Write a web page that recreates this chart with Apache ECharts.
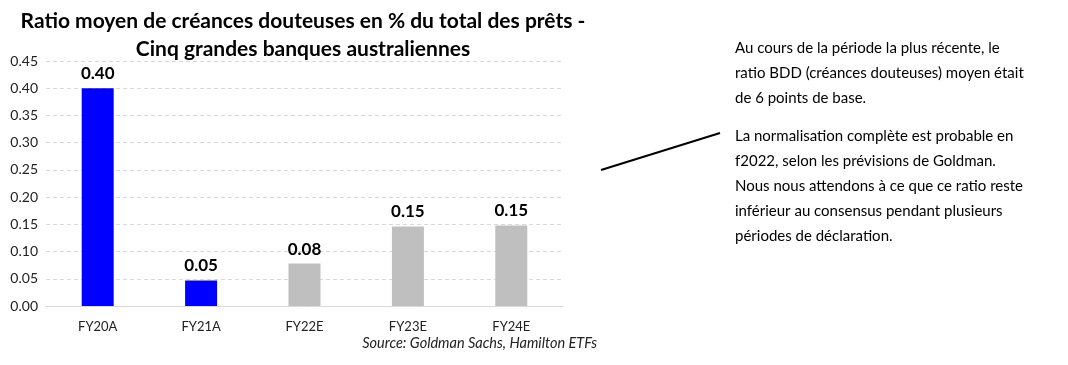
<!DOCTYPE html>
<html><head><meta charset="utf-8">
<script src="https://cdn.jsdelivr.net/npm/echarts@6/dist/echarts.min.js"></script>
<style>html,body{margin:0;padding:0;background:#fff}#c{width:1068px;height:365px}</style>
</head><body><div id="c"></div>
<script>
const categories = ['FY20A','FY21A','FY22E','FY23E','FY24E'];
const values = [0.40, 0.047, 0.078, 0.146, 0.148];
const barColors = ['#0000FF','#0000FF','#BFBFBF','#BFBFBF','#BFBFBF'];
const yTicks = [0, 0.05, 0.10, 0.15, 0.20, 0.25, 0.30, 0.35, 0.40, 0.45];
const titleText = 'Ratio moyen de créances douteuses en % du total des prêts -\nCinq grandes banques australiennes';
const sourceText = 'Source: Goldman Sachs, Hamilton ETFs';
const para1 = ['Au cours de la période la plus récente, le', 'ratio BDD (créances douteuses) moyen était', 'de 6 points de base.'];
const para2 = ['La normalisation complète est probable en', 'f2022, selon les prévisions de Goldman.', 'Nous nous attendons à ce que ce ratio reste', 'inférieur au consensus pendant plusieurs', 'périodes de déclaration.'];

const font = 'Lato, "Open Sans", sans-serif';
const chart = echarts.init(document.getElementById('c'));
chart.setOption({
  animation: false,
  title: {
    text: titleText, left: 298, textAlign: 'center', top: 2,
    textStyle: {fontFamily: font, fontWeight: 'bold', fontSize: 21, color: '#000', lineHeight: 28}
  },
  grid: {left: 46, right: 1068 - 563, top: 61, bottom: 365 - 306, containLabel: false},
  xAxis: {
    type: 'category', data: categories,
    axisLine: {lineStyle: {color: '#D9D9D9'}}, axisTick: {show: false},
    axisLabel: {fontFamily: font, fontSize: 13, color: '#222', margin: 14}
  },
  yAxis: {
    type: 'value', min: 0, max: 0.45, interval: 0.05,
    axisLabel: {fontFamily: font, fontSize: 14, color: '#222', margin: 8, align: 'right',
      formatter: v => v.toFixed(2)},
    splitLine: {lineStyle: {color: '#D9D9D9', type: [4, 3]}},
    axisLine: {show: false}, axisTick: {show: false}
  },
  series: [{
    type: 'bar', barWidth: 32,
    data: values.map((v, i) => ({value: v, itemStyle: {color: barColors[i]}})),
    label: {show: true, position: 'top', distance: 6, fontFamily: font, fontWeight: 'bold', fontSize: 17, color: '#000',
      formatter: p => p.value.toFixed(2)}
  }],
  graphic: [
    {type: 'text', right: 1068 - 597, top: 336,
      style: {text: sourceText, font: 'italic 14.5px ' + font, fill: '#222', textAlign: 'right'}},
    {type: 'line', shape: {x1: 601, y1: 170, x2: 720, y2: 133}, style: {stroke: '#000', lineWidth: 2}},
    {type: 'text', x: 735, y: 36,
      style: {text: para1.join('\n'), font: '15px ' + font, fill: '#000', lineHeight: 25}},
    {type: 'text', x: 735, y: 124,
      style: {text: para2.join('\n'), font: '15px ' + font, fill: '#000', lineHeight: 25}}
  ]
});
</script></body></html>
